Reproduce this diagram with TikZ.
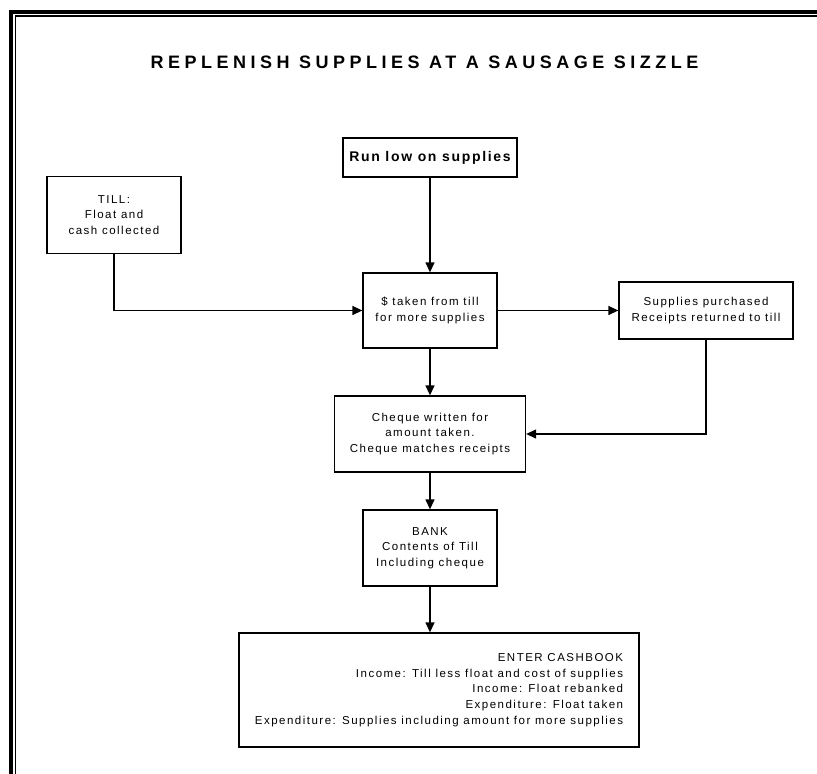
\documentclass[tikz,border=0pt]{standalone}
\usepackage{fontspec}
\newfontfamily\boxfont{Liberation Sans}[LetterSpace=13]
\newfontfamily\headfont{Liberation Sans}[LetterSpace=12]
\newfontfamily\titlefont{Liberation Sans}[LetterSpace=25]
\usetikzlibrary{arrows.meta}
\usetikzlibrary{calc}

\tikzset{
	flowbox/.style={draw, line width=1.3pt, align=center, inner sep=0pt,
		font=\boxfont\fontsize{11.5}{15.6}\selectfont},
	flowarrow/.style={-{Triangle[length=10pt,width=9pt]}, line width=1.3pt},
}

\begin{document}
\begin{tikzpicture}[x=1pt,y=-1pt]
	\useasboundingbox (0,0) rectangle (817,774);

	% double frame
	\draw[line width=4pt] (11.3,790) -- (11.3,12) -- (830,12);
	\draw[line width=1.3pt] (15.4,790) -- (15.4,16) -- (830,16);

	% title
	\node[font=\titlefont\bfseries\fontsize{18}{20}\selectfont] (title) at (424.5,62.5)
		{REPLENISH SUPPLIES AT A SAUSAGE SIZZLE};

	% boxes
	\node[flowbox, minimum width=174pt, minimum height=39pt,
		font=\headfont\bfseries\fontsize{14}{16}\selectfont] (run) at (430,157.5) {Run low on supplies};
	\node[flowbox, minimum width=134pt, minimum height=77pt] (till) at (114,215)
		{TILL:\\Float and\\cash collected};
	\node[flowbox, minimum width=134pt, minimum height=75pt] (taken) at (430,310.5)
		{\$ taken from till\\for more supplies};
	\node[flowbox, minimum width=174pt, minimum height=57pt] (supplies) at (706,310.5)
		{Supplies purchased\\Receipts returned to till};
	\node[flowbox, minimum width=191pt, minimum height=76pt] (cheque) at (430,434)
		{Cheque written for\\amount taken.\\Cheque matches receipts};
	\node[flowbox, minimum width=134pt, minimum height=76pt] (bank) at (430,548)
		{BANK\\Contents of Till\\Including cheque};
	\node[flowbox, align=right, minimum width=400pt, minimum height=114pt] (cashbook) at (439,690)
		{ENTER CASHBOOK\\Income: Till less float and cost of supplies\\Income: Float rebanked\\Expenditure: Float taken\\Expenditure: Supplies including amount for more supplies};

	% connectors
	\draw[flowarrow] (run) -- (taken);
	\draw[flowarrow] (till) |- (taken);
	\draw[flowarrow] (taken) -- (supplies);
	\draw[flowarrow] (supplies) |- (cheque);
	\draw[flowarrow] (taken) -- (cheque);
	\draw[flowarrow] (cheque) -- (bank);
	\draw[flowarrow] (bank) -- (bank |- cashbook.north);

\end{tikzpicture}
\end{document}
